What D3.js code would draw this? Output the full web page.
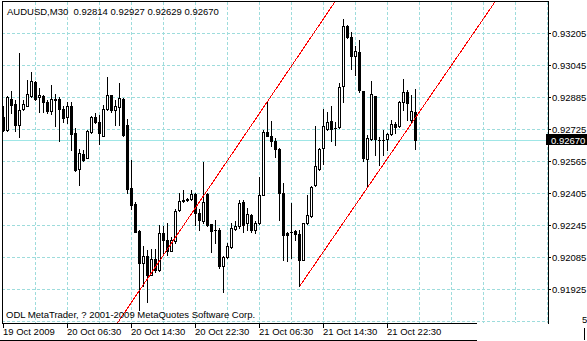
<!DOCTYPE html>
<html>
<head>
<meta charset="utf-8">
<script src="https://cdn.jsdelivr.net/npm/d3@7"></script>
<style>
body { margin: 0; background: #fff; }
text { font-family: "Liberation Sans", Arial, sans-serif; font-size: 9.5px; }
</style>
</head>
<body>
<script>
// AUDUSD M30 bars, oldest first
var opens = [
  0.92785, 0.92722, 0.92875, 0.92852, 0.92745, 0.92825, 0.92842, 0.92892, 0.92964, 0.92885,
  0.92892, 0.92864, 0.92815, 0.92875, 0.92875, 0.92827, 0.92789, 0.92842, 0.92705, 0.92525,
  0.92602, 0.92584, 0.92710, 0.92785, 0.92760, 0.92694, 0.92825, 0.92897, 0.92822, 0.92835,
  0.92877, 0.92747, 0.92430, 0.92350, 0.92217, 0.92055, 0.92092, 0.91997, 0.92075, 0.92022,
  0.92205, 0.92172, 0.92119, 0.92164, 0.92322, 0.92364, 0.92369, 0.92375, 0.92402, 0.92309,
  0.92264, 0.92400, 0.92250, 0.92222, 0.92222, 0.92039, 0.92085, 0.92135, 0.92227, 0.92239,
  0.92360, 0.92255, 0.92297, 0.92222, 0.92255, 0.92397, 0.92714, 0.92692, 0.92664, 0.92625,
  0.92405, 0.92205, 0.92214, 0.92217, 0.92202, 0.92069, 0.92255, 0.92294, 0.92444, 0.92525,
  0.92630, 0.92727, 0.92767, 0.92732, 0.92735, 0.92939, 0.93239, 0.93189, 0.93094, 0.93110,
  0.92917, 0.92575, 0.92675, 0.92892, 0.92672, 0.92672, 0.92675, 0.92700, 0.92752, 0.92739,
  0.92860, 0.92914, 0.92772, 0.92814
];
var highs = [
  0.92839, 0.92892, 0.92917, 0.92872, 0.93105, 0.92872, 0.92972, 0.93010, 0.92967, 0.92930,
  0.92897, 0.92872, 0.92947, 0.92900, 0.92885, 0.92839, 0.92864, 0.92864, 0.92730, 0.92625,
  0.92622, 0.92722, 0.92792, 0.92809, 0.92797, 0.92847, 0.92985, 0.92897, 0.92872, 0.92959,
  0.92880, 0.92775, 0.92572, 0.92359, 0.92222, 0.92139, 0.92122, 0.92125, 0.92125, 0.92247,
  0.92239, 0.92255, 0.92189, 0.92325, 0.92405, 0.92422, 0.92380, 0.92422, 0.92409, 0.92325,
  0.92559, 0.92405, 0.92250, 0.92272, 0.92230, 0.92089, 0.92155, 0.92255, 0.92264, 0.92369,
  0.92369, 0.92330, 0.92300, 0.92264, 0.92489, 0.92722, 0.92864, 0.92767, 0.92680, 0.92630,
  0.92455, 0.92214, 0.92355, 0.92222, 0.92222, 0.92255, 0.92397, 0.92439, 0.92739, 0.92630,
  0.92827, 0.92810, 0.92839, 0.92764, 0.92959, 0.93275, 0.93247, 0.93210, 0.93139, 0.93172,
  0.92917, 0.92697, 0.92969, 0.92892, 0.92689, 0.92722, 0.92705, 0.92772, 0.92759, 0.92869,
  0.92975, 0.92922, 0.92897, 0.92927
];
var lows = [
  0.92719, 0.92719, 0.92805, 0.92719, 0.92685, 0.92822, 0.92839, 0.92885, 0.92872, 0.92812,
  0.92812, 0.92805, 0.92802, 0.92739, 0.92667, 0.92764, 0.92755, 0.92622, 0.92519, 0.92444,
  0.92564, 0.92584, 0.92705, 0.92755, 0.92650, 0.92694, 0.92822, 0.92814, 0.92747, 0.92747,
  0.92694, 0.92405, 0.92325, 0.92210, 0.91822, 0.91939, 0.91860, 0.91997, 0.92014, 0.92019,
  0.92109, 0.92097, 0.92115, 0.92155, 0.92319, 0.92360, 0.92364, 0.92372, 0.92247, 0.92222,
  0.92255, 0.92242, 0.92114, 0.92155, 0.92030, 0.91914, 0.92080, 0.92130, 0.92222, 0.92230,
  0.92214, 0.92222, 0.92214, 0.92209, 0.92252, 0.92397, 0.92692, 0.92639, 0.92589, 0.92272,
  0.92072, 0.92064, 0.92080, 0.92172, 0.91939, 0.92069, 0.92252, 0.92289, 0.92439, 0.92522,
  0.92552, 0.92722, 0.92664, 0.92647, 0.92730, 0.92859, 0.93180, 0.93025, 0.92997, 0.92914,
  0.92564, 0.92439, 0.92672, 0.92597, 0.92547, 0.92597, 0.92622, 0.92695, 0.92709, 0.92735,
  0.92822, 0.92772, 0.92764, 0.92629
];
var closes = [
  0.92722, 0.92885, 0.92845, 0.92745, 0.92822, 0.92850, 0.92900, 0.92967, 0.92879, 0.92897,
  0.92859, 0.92815, 0.92875, 0.92872, 0.92825, 0.92780, 0.92839, 0.92700, 0.92522, 0.92609,
  0.92569, 0.92717, 0.92785, 0.92759, 0.92705, 0.92827, 0.92895, 0.92822, 0.92842, 0.92880,
  0.92695, 0.92425, 0.92347, 0.92214, 0.92055, 0.92092, 0.91997, 0.92075, 0.92022, 0.92205,
  0.92172, 0.92119, 0.92172, 0.92317, 0.92367, 0.92372, 0.92375, 0.92402, 0.92309, 0.92269,
  0.92359, 0.92247, 0.92219, 0.92220, 0.92039, 0.92085, 0.92139, 0.92230, 0.92242, 0.92355,
  0.92247, 0.92300, 0.92222, 0.92255, 0.92397, 0.92714, 0.92692, 0.92664, 0.92625, 0.92405,
  0.92197, 0.92197, 0.92212, 0.92202, 0.92069, 0.92255, 0.92297, 0.92434, 0.92539, 0.92625,
  0.92739, 0.92760, 0.92727, 0.92730, 0.92935, 0.93239, 0.93189, 0.93094, 0.93119, 0.92922,
  0.92580, 0.92680, 0.92900, 0.92675, 0.92670, 0.92670, 0.92700, 0.92750, 0.92735, 0.92860,
  0.92914, 0.92855, 0.92817, 0.92670
];

var timeLabels = ['19 Oct 2009', '20 Oct 06:30', '20 Oct 14:30', '20 Oct 22:30',
                  '21 Oct 06:30', '21 Oct 14:30', '21 Oct 22:30'];
var timeLabelBars = [0, 16, 32, 48, 64, 80, 96];
var priceTicks = [0.93205, 0.93045, 0.92885, 0.92725, 0.92565, 0.92405, 0.92245, 0.92085, 0.91925];
var gridPrices = priceTicks.concat([0.91765]);
var gridBars = d3.range(8, 137, 8);

// two red trend lines [bar, price]
var trendA = [[26, 0.91683], [84, 0.93396]];
var trendB = [[74, 0.91939], [124, 0.93395]];

var symbol = 'AUDUSD,M30';
var copyright = 'ODL MetaTrader, ? 2001-2009 MetaQuotes Software Corp.';

// plot frame (note: "top" is reserved on window, so use other names)
var plotL = 2, plotT = 2, plotR = 548, plotB = 323;

var x = d3.scaleLinear().domain([0, 136]).range([3, 547]);
var y = d3.scaleLinear().domain([0.91765, 0.93205]).range([321.3, 33.3]);
function py(p) { return Math.round(y(p)); }

var svg = d3.select('body').append('svg').attr('width', 587).attr('height', 341);
svg.append('rect').attr('width', 587).attr('height', 341).attr('fill', '#fff');

svg.append('defs').append('clipPath').attr('id', 'plot')
  .append('rect').attr('x', plotL).attr('y', plotT)
  .attr('width', plotR - plotL).attr('height', plotB - plotT);

var plot = svg.append('g').attr('clip-path', 'url(#plot)');

// grid
var gridColor = '#9edcdc';
plot.selectAll('line.hgrid').data(gridPrices)
  .enter().append('line').attr('class', 'hgrid')
  .attr('x1', plotL).attr('x2', plotR)
  .attr('y1', function(d) { return py(d) + 0.5; })
  .attr('y2', function(d) { return py(d) + 0.5; })
  .attr('stroke', gridColor).attr('stroke-dasharray', '3,2');

plot.selectAll('line.vgrid').data(gridBars)
  .enter().append('line').attr('class', 'vgrid')
  .attr('x1', function(d) { return x(d) + 0.5; })
  .attr('x2', function(d) { return x(d) + 0.5; })
  .attr('y1', plotT).attr('y2', plotB)
  .attr('stroke', gridColor).attr('stroke-dasharray', '3,2');

// current price line
var last = closes.length - 1;
plot.append('line')
  .attr('x1', plotL).attr('x2', plotR)
  .attr('y1', py(closes[last]) + 0.5).attr('y2', py(closes[last]) + 0.5)
  .attr('stroke', '#9fe6e6');

// candles
var bars = d3.range(opens.length);
plot.selectAll('rect.wick').data(bars)
  .enter().append('rect').attr('class', 'wick')
  .attr('x', function(i) { return x(i); })
  .attr('y', function(i) { return py(highs[i]); })
  .attr('width', 1)
  .attr('height', function(i) { return py(lows[i]) - py(highs[i]) + 1; })
  .attr('fill', '#000');

plot.selectAll('rect.bear').data(bars.filter(function(i) { return closes[i] < opens[i] || py(closes[i]) === py(opens[i]); }))
  .enter().append('rect').attr('class', 'bear')
  .attr('x', function(i) { return x(i) - 1; })
  .attr('y', function(i) { return Math.min(py(opens[i]), py(closes[i])); })
  .attr('width', 3)
  .attr('height', function(i) { return Math.abs(py(closes[i]) - py(opens[i])) + 1; })
  .attr('fill', '#000');

plot.selectAll('rect.bull').data(bars.filter(function(i) { return closes[i] >= opens[i] && py(closes[i]) !== py(opens[i]); }))
  .enter().append('rect').attr('class', 'bull')
  .attr('x', function(i) { return x(i) - 0.5; })
  .attr('y', function(i) { return py(closes[i]) + 0.5; })
  .attr('width', 2)
  .attr('height', function(i) { return py(opens[i]) - py(closes[i]); })
  .attr('fill', '#fff').attr('stroke', '#000');

// trend lines
var trendLine = d3.line()
  .x(function(d) { return x(d[0]) + 0.5; })
  .y(function(d) { return y(d[1]); });
plot.selectAll('path.trend').data([trendA, trendB])
  .enter().append('path').attr('class', 'trend')
  .attr('d', trendLine)
  .attr('fill', 'none').attr('stroke', '#ff0000')
  .attr('shape-rendering', 'crispEdges');

// frame
svg.append('line').attr('x1', plotL + 0.5).attr('x2', plotL + 0.5).attr('y1', 1).attr('y2', plotB + 1).attr('stroke', '#000');
svg.append('line').attr('x1', plotL).attr('x2', plotR + 1).attr('y1', 1.5).attr('y2', 1.5).attr('stroke', '#000');
svg.append('line').attr('x1', plotR + 0.5).attr('x2', plotR + 0.5).attr('y1', 1).attr('y2', plotB + 1).attr('stroke', '#000');
svg.append('line').attr('x1', plotL).attr('x2', 477).attr('y1', plotB + 0.5).attr('y2', plotB + 0.5).attr('stroke', '#000');
svg.append('line').attr('x1', 0).attr('x2', 477).attr('y1', 340.5).attr('y2', 340.5).attr('stroke', '#000');

// time axis
svg.selectAll('line.xtick').data(timeLabelBars)
  .enter().append('line').attr('class', 'xtick')
  .attr('x1', function(d) { return x(d) + 0.5; })
  .attr('x2', function(d) { return x(d) + 0.5; })
  .attr('y1', plotB).attr('y2', plotB + 5)
  .attr('stroke', '#000');
svg.selectAll('text.xlab').data(timeLabelBars)
  .enter().append('text').attr('class', 'xlab')
  .attr('x', function(d) { return x(d); })
  .attr('y', 335)
  .text(function(d, i) { return timeLabels[i]; });

// price axis
svg.selectAll('line.ytick').data(priceTicks)
  .enter().append('line').attr('class', 'ytick')
  .attr('x1', plotR).attr('x2', plotR + 3)
  .attr('y1', function(d) { return py(d) + 0.5; })
  .attr('y2', function(d) { return py(d) + 0.5; })
  .attr('stroke', '#000');
svg.selectAll('text.ylab').data(priceTicks)
  .enter().append('text').attr('class', 'ylab')
  .attr('x', 552)
  .attr('y', function(d) { return py(d) + 4; })
  .text(function(d) { return d3.format('.5f')(d); });

svg.append('rect')
  .attr('x', 546).attr('y', py(closes[last]) - 6)
  .attr('width', 41).attr('height', 11).attr('fill', '#000');
svg.append('text')
  .attr('x', 551).attr('y', py(closes[last]) + 3.5)
  .attr('fill', '#fff')
  .text(d3.format('.5f')(closes[last]));

svg.append('text').attr('x', 582).attr('y', 323).text('5');
svg.append('line').attr('x1', 584.5).attr('x2', 584.5).attr('y1', 328).attr('y2', 340).attr('stroke', '#000');

// header and footer text
var ohlc = [opens[last], highs[last], lows[last], closes[last]].map(d3.format('.5f')).join(' ');
svg.append('text').attr('x', 7).attr('y', 15)
  .style('white-space', 'pre')
  .text(symbol + '  ' + ohlc);
svg.append('text').attr('x', 6).attr('y', 318)
  .text(copyright);
</script>
</body>
</html>
